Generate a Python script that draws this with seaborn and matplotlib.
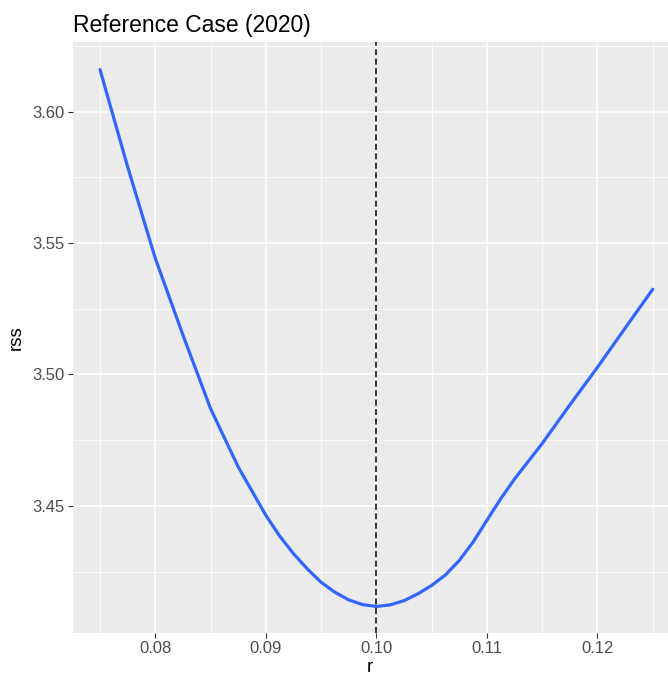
import matplotlib
matplotlib.use("Agg")
import matplotlib.pyplot as plt
import seaborn as sns
import pandas as pd
from matplotlib.ticker import MultipleLocator, FixedLocator

# Data
r_values = [0.075, 0.0775, 0.08, 0.0825, 0.085, 0.0875, 0.09, 0.09125, 0.0925,
            0.09375, 0.095, 0.09625, 0.0975, 0.09875, 0.10, 0.10125, 0.1025,
            0.10375, 0.105, 0.10625, 0.1075, 0.10875, 0.11, 0.11125, 0.1125,
            0.115, 0.1175, 0.12, 0.1225, 0.125]
rss_values = [3.6160, 3.5790, 3.5442, 3.5150, 3.4870, 3.4648, 3.4464, 3.4385, 3.4318,
              3.4260, 3.4209, 3.4171, 3.4142, 3.4124, 3.4117, 3.4123, 3.4139,
              3.4165, 3.4197, 3.4237, 3.4292, 3.4362, 3.4445, 3.4527, 3.4602,
              3.4737, 3.4884, 3.5027, 3.5176, 3.5324]
r_best = 0.10
title_text = "Reference Case (2020)"
x_ticks = [0.08, 0.09, 0.10, 0.11, 0.12]
x_tick_labels = ["0.08", "0.09", "0.10", "0.11", "0.12"]
y_ticks = [3.45, 3.50, 3.55, 3.60]
y_tick_labels = ["3.45", "3.50", "3.55", "3.60"]

df = pd.DataFrame({"r": r_values, "rss": rss_values})

sns.set_theme(style="darkgrid", rc={
    "axes.facecolor": "#EBEBEB",
    "grid.color": "white",
    "axes.edgecolor": "#EBEBEB",
})
plt.rcParams["font.family"] = ["Liberation Sans", "DejaVu Sans"]

fig = plt.figure(figsize=(6.68, 6.76), dpi=100)
ax = fig.add_axes([72.7 / 668, 1 - 633 / 676, (668 - 72.7) / 668, (633 - 41.7) / 676])

sns.lineplot(data=df, x="r", y="rss", ax=ax, color="#3366FF", linewidth=2.3, zorder=3)
ax.axvline(r_best, color="black", linestyle=(0, (4, 2.2)), linewidth=1.1, zorder=4)

ax.set_xlim(0.07253, 0.12638)
ax.set_ylim(3.4016, 3.6266)

ax.xaxis.set_major_locator(FixedLocator(x_ticks))
ax.set_xticklabels(x_tick_labels)
ax.yaxis.set_major_locator(FixedLocator(y_ticks))
ax.set_yticklabels(y_tick_labels)
ax.xaxis.set_minor_locator(MultipleLocator(0.005))
ax.yaxis.set_minor_locator(MultipleLocator(0.025))

ax.grid(which="major", color="white", linewidth=1.1)
ax.grid(which="minor", color="white", linewidth=0.55)
ax.set_axisbelow(True)
for s in ax.spines.values():
    s.set_visible(False)

ax.tick_params(axis="both", which="major", length=3.5, width=0.8, color="#333333",
               labelsize=12, labelcolor="#4D4D4D", pad=2.5, bottom=True, left=True)
ax.tick_params(axis="both", which="minor", length=0)

ax.set_xlabel("r", fontsize=13.5, color="black", labelpad=2)
ax.set_ylabel("rss", fontsize=13.5, color="black", labelpad=5)
ax.set_title(title_text, fontsize=16.5, color="black", loc="left", pad=7)

fig.savefig("out.png", dpi=100)
